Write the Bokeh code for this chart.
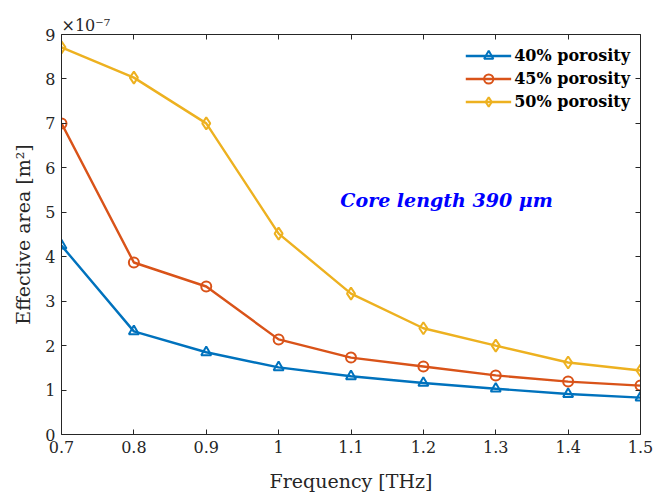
from bokeh.plotting import figure
from bokeh.models import LinearAxis, Label, Legend, LegendItem, FixedTicker, Range1d
from bokeh.embed import file_html
from bokeh.resources import INLINE

freq = [0.7, 0.8, 0.9, 1.0, 1.1, 1.2, 1.3, 1.4, 1.5]
p40 = [4.25, 2.32, 1.85, 1.51, 1.31, 1.16, 1.03, 0.91, 0.83]
p45 = [7.00, 3.87, 3.33, 2.14, 1.73, 1.53, 1.33, 1.19, 1.10]
p50 = [8.71, 8.03, 7.00, 4.52, 3.17, 2.39, 2.00, 1.62, 1.44]
names = ["40% porosity", "45% porosity", "50% porosity"]
x_ticks = [0.7, 0.8, 0.9, 1.0, 1.1, 1.2, 1.3, 1.4, 1.5]
y_ticks = [0, 1, 2, 3, 4, 5, 6, 7, 8, 9]

FONT = "DejaVu Serif"
AX = "#262626"

p = figure(width=667, height=496, output_backend="svg", toolbar_location=None,
           x_range=Range1d(0.7, 1.5), y_range=Range1d(0, 9),
           min_border_left=61, min_border_right=27, min_border_top=34, min_border_bottom=62)
p.outline_line_color = None
p.grid.visible = False
p.background_fill_color = "white"

p.title.text = "\u00d710\u207b\u2077"
p.title.text_font = FONT
p.title.text_font_size = "16px"
p.title.text_font_style = "normal"
p.title.text_color = AX
p.title.align = "left"
p.title.offset = 0
p.title.standoff = 0

def style_axis(ax):
    ax.axis_line_color = AX
    ax.axis_line_width = 1
    ax.major_tick_in = 5
    ax.major_tick_out = 0
    ax.minor_tick_line_color = None
    ax.major_tick_line_color = AX
    ax.major_label_text_font = FONT
    ax.major_label_text_font_size = "16px"
    ax.major_label_text_color = AX
    ax.axis_label_text_font = FONT
    ax.axis_label_text_font_size = "19px"
    ax.axis_label_text_font_style = "normal"
    ax.axis_label_text_color = AX

p.xaxis.ticker = FixedTicker(ticks=x_ticks)
p.yaxis.ticker = FixedTicker(ticks=y_ticks)
p.xaxis.major_label_overrides = {1.0: "1"}
p.yaxis.major_label_overrides = {v: str(v) for v in y_ticks}
style_axis(p.xaxis[0])
style_axis(p.yaxis[0])
p.xaxis.axis_label = "Frequency [THz]"
p.yaxis.axis_label = "Effective area [m\u00b2]"
p.xaxis.major_label_standoff = 6
p.yaxis.major_label_standoff = 6
p.yaxis.axis_label_standoff = 8
p.xaxis.axis_label_standoff = 14

top = LinearAxis(ticker=FixedTicker(ticks=x_ticks))
right = LinearAxis(ticker=FixedTicker(ticks=y_ticks))
style_axis(top)
style_axis(right)
top.major_label_overrides = {v: "" for v in x_ticks}
right.major_label_overrides = {v: "" for v in y_ticks}
top.major_label_standoff = 0
right.major_label_standoff = 0
p.add_layout(top, "above")
p.add_layout(right, "right")

colors = ["#0072BD", "#D95319", "#EDB120"]
markers = ["triangle", "circle", "diamond"]
sizes = [10, 10, 12]
items = []
for ys, c, m, s, n in zip([p40, p45, p50], colors, markers, sizes, names):
    r1 = p.line(freq, ys, line_color=c, line_width=2.4)
    r2 = p.scatter(freq, ys, marker=m, size=s, line_color=c, line_width=2, fill_color=None)
    items.append(LegendItem(label=n, renderers=[r1, r2]))

legend = Legend(items=items, location="top_right")
legend.border_line_color = None
legend.background_fill_alpha = 0
legend.label_text_font = FONT
legend.label_text_font_size = "16px"
legend.label_text_font_style = "bold"
legend.label_text_color = "black"
legend.glyph_width = 46
legend.spacing = 0
legend.label_height = 23
legend.glyph_height = 23
legend.padding = 12
legend.margin = 10
legend.label_standoff = 3
p.add_layout(legend)

p.add_layout(Label(x=1.232, y=5.27, text="Core length 390 \u03bcm", text_font=FONT,
                   text_font_size="19px", text_font_style="bold italic", text_color="#0000FF",
                   text_align="center", text_baseline="middle"))

open("out.html", "w").write(file_html(p, INLINE))
